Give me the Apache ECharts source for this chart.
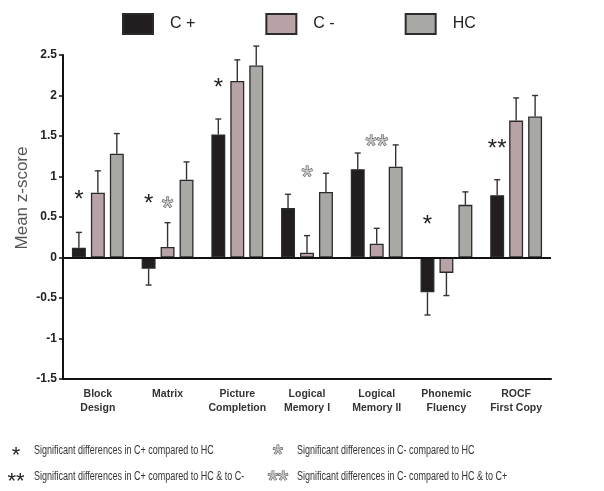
<!DOCTYPE html>
<html><head><meta charset="utf-8">
<script src="https://cdn.jsdelivr.net/npm/echarts@6/dist/echarts.min.js"></script>
<style>html,body{margin:0;padding:0;background:#fff}#c{width:604px;height:491px}</style>
</head><body><div id="c"></div>
<script>
const categories = ['Block\nDesign', 'Matrix', 'Picture\nCompletion', 'Logical\nMemory I', 'Logical\nMemory II', 'Phonemic\nFluency', 'ROCF\nFirst Copy'];
const seriesNames = ['C +', 'C -', 'HC'];
const cPlus = [0.12, -0.14, 1.52, 0.61, 1.09, -0.43, 0.77];
const cPlusErr = [0.31, -0.34, 1.71, 0.78, 1.29, -0.71, 0.96];
const cMinus = [0.80, 0.13, 2.18, 0.06, 0.17, -0.19, 1.69];
const cMinusErr = [1.07, 0.43, 2.44, 0.27, 0.36, -0.47, 1.97];
const hc = [1.28, 0.96, 2.37, 0.81, 1.12, 0.65, 1.74];
const hcErr = [1.53, 1.18, 2.61, 1.04, 1.39, 0.81, 2.00];
// significance marks: category index, group (0 = C+, 1 = C-), y value, text, kind (black / gray)
const markCat = [0, 1, 1, 2, 3, 4, 5, 6];
const markGroup = [0, 0, 1, 0, 1, 1, 0, 0];
const markY = [0.70, 0.65, 0.63, 2.09, 1.02, 1.40, 0.40, 1.33];
const markText = ['*', '*', '*', '*', '*', '**', '*', '**'];
const markGray = [false, false, true, false, true, true, false, false];
const footnotes = [
  ['*', false, 'Significant differences in C+ compared to HC'],
  ['*', true, 'Significant differences in C- compared to HC'],
  ['**', false, 'Significant differences in C+ compared to HC & to C-'],
  ['**', true, 'Significant differences in C- compared to HC & to C+']
];

const colors = ['#221e1f', '#b9a2a5', '#a8a9a4'];
const FONT = 'Liberation Sans';
const BAR_RATIO = 0.2, GAP = 0.36;

const chart = echarts.init(document.getElementById('c'));
const values = [cPlus, cMinus, hc];
const errs = [cPlusErr, cMinusErr, hcErr];

function starStyle(gray, size) {
  return gray ? {fill: '#c8c8c8', stroke: '#4e4e4e', lineWidth: 1, fontSize: size * 1.2, fontFamily: FONT}
              : {fill: '#222', fontSize: size, fontFamily: FONT};
}

const series = [];
values.forEach((v, g) => {
  series.push({
    name: seriesNames[g], type: 'bar', data: v,
    barWidth: (BAR_RATIO * 100) + '%', barGap: (GAP * 100) + '%',
    itemStyle: {color: colors[g], borderColor: '#2b2b2b', borderWidth: 1.3},
    markLine: g === 0 ? {silent: true, symbol: 'none', label: {show: false},
      lineStyle: {color: '#111', width: 2, type: 'solid'}, data: [{yAxis: 0}]} : undefined,
    z: 2
  });
});
values.forEach((v, g) => {
  series.push({
    type: 'custom', name: 'err' + g, silent: true, z: 3,
    data: v.map((val, i) => [i, val, errs[g][i]]),
    renderItem(params, api) {
      const bw = api.size([1, 0])[0];
      const barW = bw * BAR_RATIO;
      const off = (g - 1) * barW * (1 + GAP);
      const p1 = api.coord([api.value(0), api.value(1)]);
      const p2 = api.coord([api.value(0), api.value(2)]);
      const x = p1[0] + off;
      const st = {stroke: '#333', lineWidth: 1.4};
      return {type: 'group', children: [
        {type: 'line', shape: {x1: x, y1: p1[1], x2: x, y2: p2[1]}, style: st},
        {type: 'line', shape: {x1: x - 3, y1: p2[1], x2: x + 3, y2: p2[1]}, style: st}
      ]};
    }
  });
});
series.push({
  type: 'custom', name: 'marks', silent: true, z: 4,
  data: markCat.map((c, i) => [c, markY[i]]),
  renderItem(params, api) {
    const i = params.dataIndex;
    const bw = api.size([1, 0])[0];
    const barW = bw * BAR_RATIO;
    const off = (markGroup[i] - 1) * barW * (1 + GAP);
    const p = api.coord([api.value(0), api.value(1)]);
    return {type: 'text', x: p[0] + off, y: p[1] + (markGray[i] ? 3 : 0),
      style: Object.assign({text: markText[i], align: 'center', verticalAlign: 'middle'}, starStyle(markGray[i], 24))};
  }
});

const graphics = [{
  type: 'text', x: 22, y: 198, rotation: Math.PI / 2,
  style: {text: 'Mean z-score', fill: '#555', fontSize: 17, fontFamily: FONT, align: 'center', verticalAlign: 'middle'}
}];
footnotes.forEach((f, i) => {
  const col = i % 2, row = Math.floor(i / 2);
  const sx = col === 0 ? 16 : 278, tx = col === 0 ? 34 : 297;
  const y = row === 0 ? 451 : 477;
  graphics.push({type: 'text', x: sx, y: y + 5, style: Object.assign({text: f[0], align: 'center', verticalAlign: 'middle'}, starStyle(f[1], 22))});
  graphics.push({type: 'text', x: tx, y: y, scaleX: 0.75, style: {text: f[2], fill: '#333', fontSize: 12, fontFamily: FONT, verticalAlign: 'middle'}});
});

chart.setOption({
  animation: false,
  textStyle: {fontFamily: FONT},
  legend: {
    data: seriesNames, top: 8, left: 117, itemWidth: 30, itemHeight: 20, itemGap: 70, icon: 'rect',
    textStyle: {fontSize: 16, color: '#222', fontFamily: FONT, padding: [0, 0, 0, 12]}
  },
  grid: {left: 63, right: 53, top: 55, bottom: 112},
  xAxis: {
    type: 'category', data: categories,
    axisLine: {onZero: false, lineStyle: {color: '#111', width: 2}},
    axisTick: {show: false},
    axisLabel: {fontSize: 10.5, fontWeight: 'bold', color: '#333', lineHeight: 14, margin: 8, interval: 0}
  },
  yAxis: {
    type: 'value', min: -1.5, max: 2.5, interval: 0.5,
    axisLine: {show: true, lineStyle: {color: '#111', width: 2}},
    axisTick: {show: true, length: 4, lineStyle: {color: '#111', width: 1.5}},
    splitLine: {show: false},
    axisLabel: {fontSize: 12, fontWeight: 'bold', color: '#222', margin: 6,
      formatter: v => String(v)}
  },
  graphic: graphics,
  series: series
});
</script>
</body></html>
